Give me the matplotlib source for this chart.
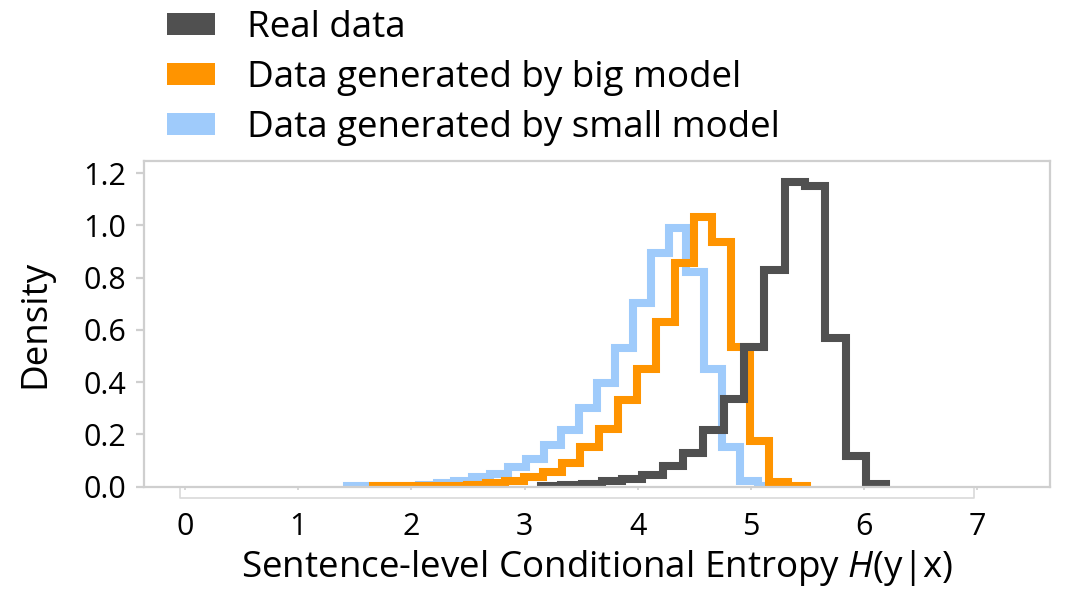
import numpy as np
import matplotlib
matplotlib.use("Agg")
import matplotlib.pyplot as plt
from matplotlib.patches import Patch
from matplotlib.lines import Line2D

plt.rcParams['font.family'] = ['Open Sans', 'DejaVu Sans']
plt.rcParams['mathtext.fontset'] = 'custom'
plt.rcParams['mathtext.it'] = 'Open Sans:italic'
plt.rcParams['mathtext.rm'] = 'Open Sans'

# ---- data (density histograms, bin edges + heights) ----
real_edges = [3.144, 3.323, 3.503, 3.682, 3.862, 4.041, 4.220, 4.400, 4.579,
              4.759, 4.938, 5.117, 5.297, 5.476, 5.656, 5.835, 6.014, 6.194]
real_density = [0.001, 0.004, 0.010, 0.020, 0.030, 0.046, 0.080, 0.130, 0.215,
                0.336, 0.534, 0.828, 1.166, 1.150, 0.570, 0.116, 0.010]

big_edges = [1.660, 1.827, 1.993, 2.160, 2.326, 2.493, 2.660, 2.826, 2.993,
             3.159, 3.326, 3.493, 3.659, 3.826, 3.992, 4.159, 4.326, 4.492,
             4.659, 4.825, 4.992, 5.159, 5.325, 5.492]
big_density = [0.001, 0.001, 0.001, 0.002, 0.003, 0.006, 0.012, 0.022, 0.035,
               0.055, 0.090, 0.150, 0.220, 0.330, 0.451, 0.630, 0.856, 1.032,
               0.936, 0.534, 0.176, 0.019, 0.002]

small_edges = [1.433, 1.591, 1.748, 1.906, 2.064, 2.222, 2.379, 2.537, 2.695,
               2.852, 3.010, 3.168, 3.325, 3.483, 3.641, 3.799, 3.956, 4.114,
               4.272, 4.429, 4.587, 4.745, 4.902, 5.060, 5.218]
small_density = [0.002, 0.002, 0.001, 0.002, 0.006, 0.014, 0.023, 0.036, 0.049,
                 0.074, 0.104, 0.160, 0.217, 0.301, 0.395, 0.530, 0.704, 0.895,
                 0.990, 0.823, 0.451, 0.153, 0.023, 0.001]

labels = ["Real data", "Data generated by big model", "Data generated by small model"]
colors = ["#505050", "#ff9400", "#9fcbfb"]
xticks = [0, 1, 2, 3, 4, 5, 6, 7]
yticks = [0.0, 0.2, 0.4, 0.6, 0.8, 1.0, 1.2]

fig = plt.figure(figsize=(10.67, 6.08), dpi=100)
ax = fig.add_axes([0.1354, 0.1998, 0.8486, 0.5346])

lw = 5.8
ax.stairs(small_density, small_edges, color=colors[2], lw=lw, zorder=2)
ax.stairs(big_density, big_edges, color=colors[1], lw=lw, zorder=3)
ax.stairs(real_density, real_edges, color=colors[0], lw=lw, zorder=4)

ax.set_xlim(-0.358, 7.64)
ax.set_ylim(0, 1.245)
ax.set_xticks(xticks)
ax.set_xticklabels([str(t) for t in xticks])
ax.set_yticks(yticks)
ax.set_yticklabels([f"{t:.1f}" for t in yticks])

spine_c = "#cfcfcf"
for s in ax.spines.values():
    s.set_color(spine_c)
    s.set_linewidth(1.6)
    s.set_zorder(5)
ax.tick_params(axis='y', length=6, width=1.6, color=spine_c, pad=7, labelsize=22)
ax.tick_params(axis='x', length=2.5, width=1.2, color=spine_c, pad=15.5, labelsize=22)

# bracket-style axis line under the plot
trans = ax.get_xaxis_transform()
ax.add_line(Line2D([-0.045, -0.045, 6.965, 6.965], [-0.003, -0.036, -0.036, -0.003],
                   transform=trans, color="#d9d9d9", lw=1.2, clip_on=False))

ax.set_xlabel(r"Sentence-level Conditional Entropy $H$(y|x)", fontsize=26.5, labelpad=5)
ax.set_ylabel("Density", fontsize=26.5, labelpad=22)

handles = [Patch(facecolor=c, edgecolor='none') for c in colors]
fig.legend(handles, labels, loc='upper left', bbox_to_anchor=(0.1427, 1.008),
           frameon=False, fontsize=26.5, handlelength=1.3, handleheight=0.52,
           handletextpad=0.87, labelspacing=0.38, borderaxespad=0)

fig.savefig("out.png", dpi=100)
